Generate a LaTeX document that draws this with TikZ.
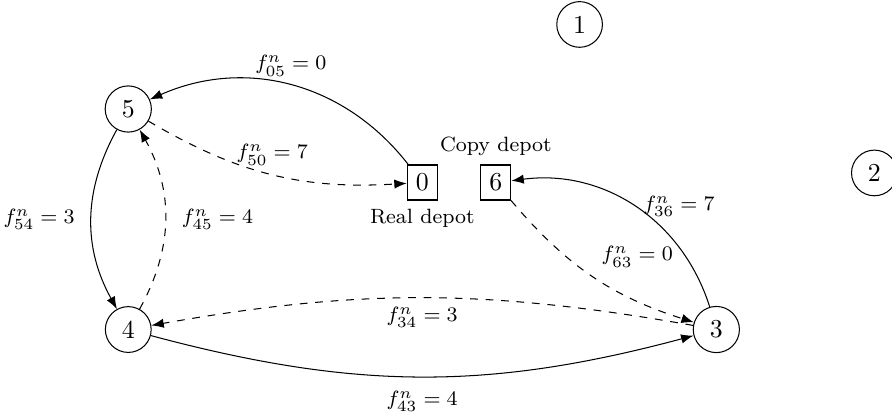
\documentclass[tikz,border=0pt]{standalone}
\usepackage{tikz}
\usetikzlibrary{arrows.meta, positioning}
\usepackage{amsmath}

\begin{document}
\begin{tikzpicture}[
  cust/.style={circle, draw},
  depot/.style={rectangle, draw},
  fl/.style={font=\footnotesize}]
  \useasboundingbox (-1.745,-1.163) rectangle (10.39,4.483);
  \node[cust] (n4) at (0,0) {4};
  \node[cust] (n5) at (0,3) {5};
  \node[cust] (n3) at (8,0) {3};
  \node[depot, label={[fl]below:Real depot}] (n0) at (4,2) {0};
  \node[depot, label={[fl]above:Copy depot}] (n6) at (5,2) {6};
  \node[cust] (n1) at (6.14,4.15) {1};
  \node[cust] (n2) at (10.15,2.13) {2};
  % solid tour
  \draw[-{Latex}] (n0) to[bend right=38] node[above, fl] {$f^n_{05} = 0$} (n5);
  \draw[-{Latex}] (n5) to[bend right=29] node[left=3pt, fl] {$f^n_{54} = 3$} (n4);
  \draw[-{Latex}] (n4) to[bend right=15] node[below=2pt, fl] {$f^n_{43} = 4$} (n3);
  \draw[-{Latex}] (n3) to[bend right=40] node[right, fl] {$f^n_{36} = 7$} (n6);
  % dashed tour
  \draw[-{Latex}, dashed] (n6) to[bend right=16] node[above right, fl] {$f^n_{63} = 0$} (n3);
  \draw[-{Latex}, dashed] (n3) to[bend right=10] node[below, fl] {$f^n_{34} = 3$} (n4);
  \draw[-{Latex}, dashed] (n4) to[bend right=29] node[right=3pt, fl] {$f^n_{45} = 4$} (n5);
  \draw[-{Latex}, dashed] (n5) to[bend right=17] node[above, fl] {$f^n_{50} = 7$} (n0);
\end{tikzpicture}
\end{document}
